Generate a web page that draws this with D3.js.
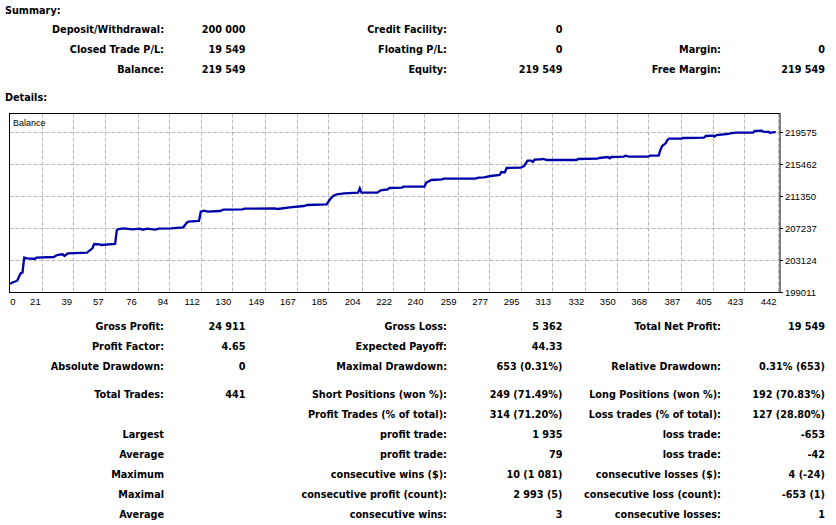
<!DOCTYPE html>
<html>
<head>
<meta charset="utf-8">
<script src="https://cdn.jsdelivr.net/npm/d3@7"></script>
<style>
  body { margin: 0; background: #fff; }
  .lbl { font-family: "DejaVu Sans", sans-serif; font-weight: bold; font-size: 9.7px; fill: #000; }
  .ax { font-family: "Liberation Sans", Arial, sans-serif; font-size: 9.5px; fill: #000; }
</style>
</head>
<body>
<svg id="chart" width="836" height="525"></svg>
<script>
// balance curve: trade number and balance after it
const tradeNo = [3, 4, 7, 8, 9, 10, 11, 13, 17, 18, 28, 29, 31, 33, 34, 36, 47, 48, 50, 51, 54, 55, 63, 64, 65, 68, 73, 77, 79, 81, 86, 88, 95, 102, 104, 105, 111, 112, 114, 116, 123, 125, 136, 137, 154, 156, 163, 171, 173, 184, 186, 188, 190, 194, 202, 203, 204, 213, 215, 219, 220, 227, 228, 240, 241, 244, 250, 251, 269, 271, 274, 278, 283, 284, 286, 287, 295, 297, 299, 301, 302, 303, 306, 308, 310, 327, 328, 339, 340, 345, 346, 347, 354, 355, 357, 368, 369, 374, 375, 376, 378, 379, 380, 387, 388, 400, 401, 405, 406, 407, 414, 415, 418, 428, 429, 433, 434, 437, 438, 439, 441];
const balance = [200039, 200206, 200463, 200977, 201414, 201492, 203420, 203342, 203252, 203420, 203510, 203677, 203805, 203857, 203638, 203985, 204062, 204281, 204628, 205180, 205142, 205052, 205180, 206980, 207108, 207198, 207070, 207147, 207019, 207147, 207019, 207147, 207198, 207327, 207918, 208047, 208137, 209332, 209461, 209332, 209422, 209589, 209640, 209717, 209769, 209679, 209897, 210064, 210193, 210283, 210925, 211388, 211568, 211697, 211774, 212339, 211774, 211774, 212082, 212211, 212378, 212417, 212545, 212545, 213060, 213407, 213497, 213574, 213574, 213702, 213754, 213920, 214049, 214435, 214396, 214949, 214987, 215206, 215887, 215887, 215720, 216016, 216067, 216106, 215977, 215977, 216106, 216144, 216234, 216363, 216196, 216363, 216401, 216530, 216401, 216401, 216530, 216530, 217262, 217777, 218124, 218548, 218715, 218715, 218805, 218843, 219062, 219100, 218972, 219190, 219319, 219409, 219486, 219486, 219705, 219743, 219614, 219575, 219447, 219537, 219549];

const xTicks = [0, 21, 39, 57, 76, 94, 112, 130, 149, 167, 185, 204, 222, 240, 259, 277, 295, 313, 332, 350, 368, 387, 405, 423, 442];
const yTicks = [199011, 203124, 207237, 211350, 215462, 219575];

// report text
const summaryRows = [
  ["Deposit/Withdrawal:", "200 000", "Credit Facility:", "0", "", ""],
  ["Closed Trade P/L:", "19 549", "Floating P/L:", "0", "Margin:", "0"],
  ["Balance:", "219 549", "Equity:", "219 549", "Free Margin:", "219 549"]
];
const detailRows = [
  ["Gross Profit:", "24 911", "Gross Loss:", "5 362", "Total Net Profit:", "19 549"],
  ["Profit Factor:", "4.65", "Expected Payoff:", "44.33", "", ""],
  ["Absolute Drawdown:", "0", "Maximal Drawdown:", "653 (0.31%)", "Relative Drawdown:", "0.31% (653)"],
  ["Total Trades:", "441", "Short Positions (won %):", "249 (71.49%)", "Long Positions (won %):", "192 (70.83%)"],
  ["", "", "Profit Trades (% of total):", "314 (71.20%)", "Loss trades (% of total):", "127 (28.80%)"],
  ["Largest", "", "profit trade:", "1 935", "loss trade:", "-653"],
  ["Average", "", "profit trade:", "79", "loss trade:", "-42"],
  ["Maximum", "", "consecutive wins ($):", "10 (1 081)", "consecutive losses ($):", "4 (-24)"],
  ["Maximal", "", "consecutive profit (count):", "2 993 (5)", "consecutive loss (count):", "-653 (1)"],
  ["Average", "", "consecutive wins:", "3", "consecutive losses:", "1"]
];

const svg = d3.select("#chart");
svg.append("rect").attr("width", 836).attr("height", 525).attr("fill", "#fff");

const colRight = [164, 245.5, 447, 562.5, 721, 825];

function drawRows(rows, ys) {
  rows.forEach((r, i) => {
    r.forEach((t, j) => {
      if (!t) return;
      svg.append("text").attr("class", "lbl")
        .attr("x", colRight[j]).attr("y", ys[i])
        .attr("text-anchor", "end").attr("dominant-baseline", "central")
        .text(t);
    });
  });
}

svg.append("text").attr("class", "lbl").attr("x", 5).attr("y", 10)
   .attr("dominant-baseline", "central").text("Summary:");
drawRows(summaryRows, [29, 49, 69]);
svg.append("text").attr("class", "lbl").attr("x", 5).attr("y", 97)
   .attr("dominant-baseline", "central").text("Details:");
drawRows(detailRows, [326, 346, 366, 394, 414, 434, 454, 474, 494, 514]);

// chart frame
const fLeft = 9.5, fTop = 113.5, fRight = 780, fBottom = 292.5;
const x = d3.scaleLinear().domain([21, 442]).range([41.7, 777.5]);
const y = d3.scaleLinear().domain([199011, 219575]).range([292, 132]);

const g = svg.append("g");

g.selectAll(".hgrid").data(yTicks.slice(1)).enter().append("line")
  .attr("x1", fLeft).attr("x2", fRight)
  .attr("y1", d => Math.round(y(d)) + 0.5).attr("y2", d => Math.round(y(d)) + 0.5)
  .attr("stroke", "#b8b8b8").attr("stroke-dasharray", "4,2");

g.selectAll(".vgrid").data(xTicks.slice(1)).enter().append("line")
  .attr("x1", d => Math.round(x(d)) + 0.5).attr("x2", d => Math.round(x(d)) + 0.5)
  .attr("y1", fTop).attr("y2", fBottom)
  .attr("stroke", "#b8b8b8").attr("stroke-dasharray", "4,2");

svg.append("clipPath").attr("id", "clip").append("rect")
  .attr("x", fLeft).attr("y", fTop).attr("width", fRight - fLeft).attr("height", fBottom - fTop);

const pts = tradeNo.map((t, i) => [t, balance[i]]);
const line = d3.line().x(d => x(d[0])).y(d => y(d[1]));
g.append("path").datum(pts)
  .attr("clip-path", "url(#clip)")
  .attr("d", line)
  .attr("fill", "none").attr("stroke", "#0000a8").attr("stroke-width", 2.3)
  .attr("stroke-linejoin", "miter");

g.append("rect").attr("x", fLeft).attr("y", fTop)
  .attr("width", fRight - fLeft).attr("height", fBottom - fTop)
  .attr("fill", "none").attr("stroke", "#000");

g.append("text").attr("class", "ax").attr("x", 13).attr("y", 122.5)
  .attr("dominant-baseline", "central").style("font-size", "9px").text("Balance");

// right axis
g.selectAll(".ytick").data(yTicks).enter().append("line")
  .attr("x1", fRight).attr("x2", fRight + 3)
  .attr("y1", d => Math.round(y(d)) + 0.5).attr("y2", d => Math.round(y(d)) + 0.5)
  .attr("stroke", "#000");
g.selectAll(".ylab").data(yTicks).enter().append("text").attr("class", "ax")
  .attr("x", 785).attr("y", d => y(d) + 0.5)
  .attr("dominant-baseline", "central")
  .text(d => d);

// bottom labels
g.selectAll(".xlab").data(xTicks).enter().append("text").attr("class", "ax")
  .attr("x", d => Math.max(x(d) - 1, fLeft + 6))
  .attr("y", 301)
  .attr("text-anchor", "end").attr("dominant-baseline", "central")
  .text(d => d);
</script>
</body>
</html>
